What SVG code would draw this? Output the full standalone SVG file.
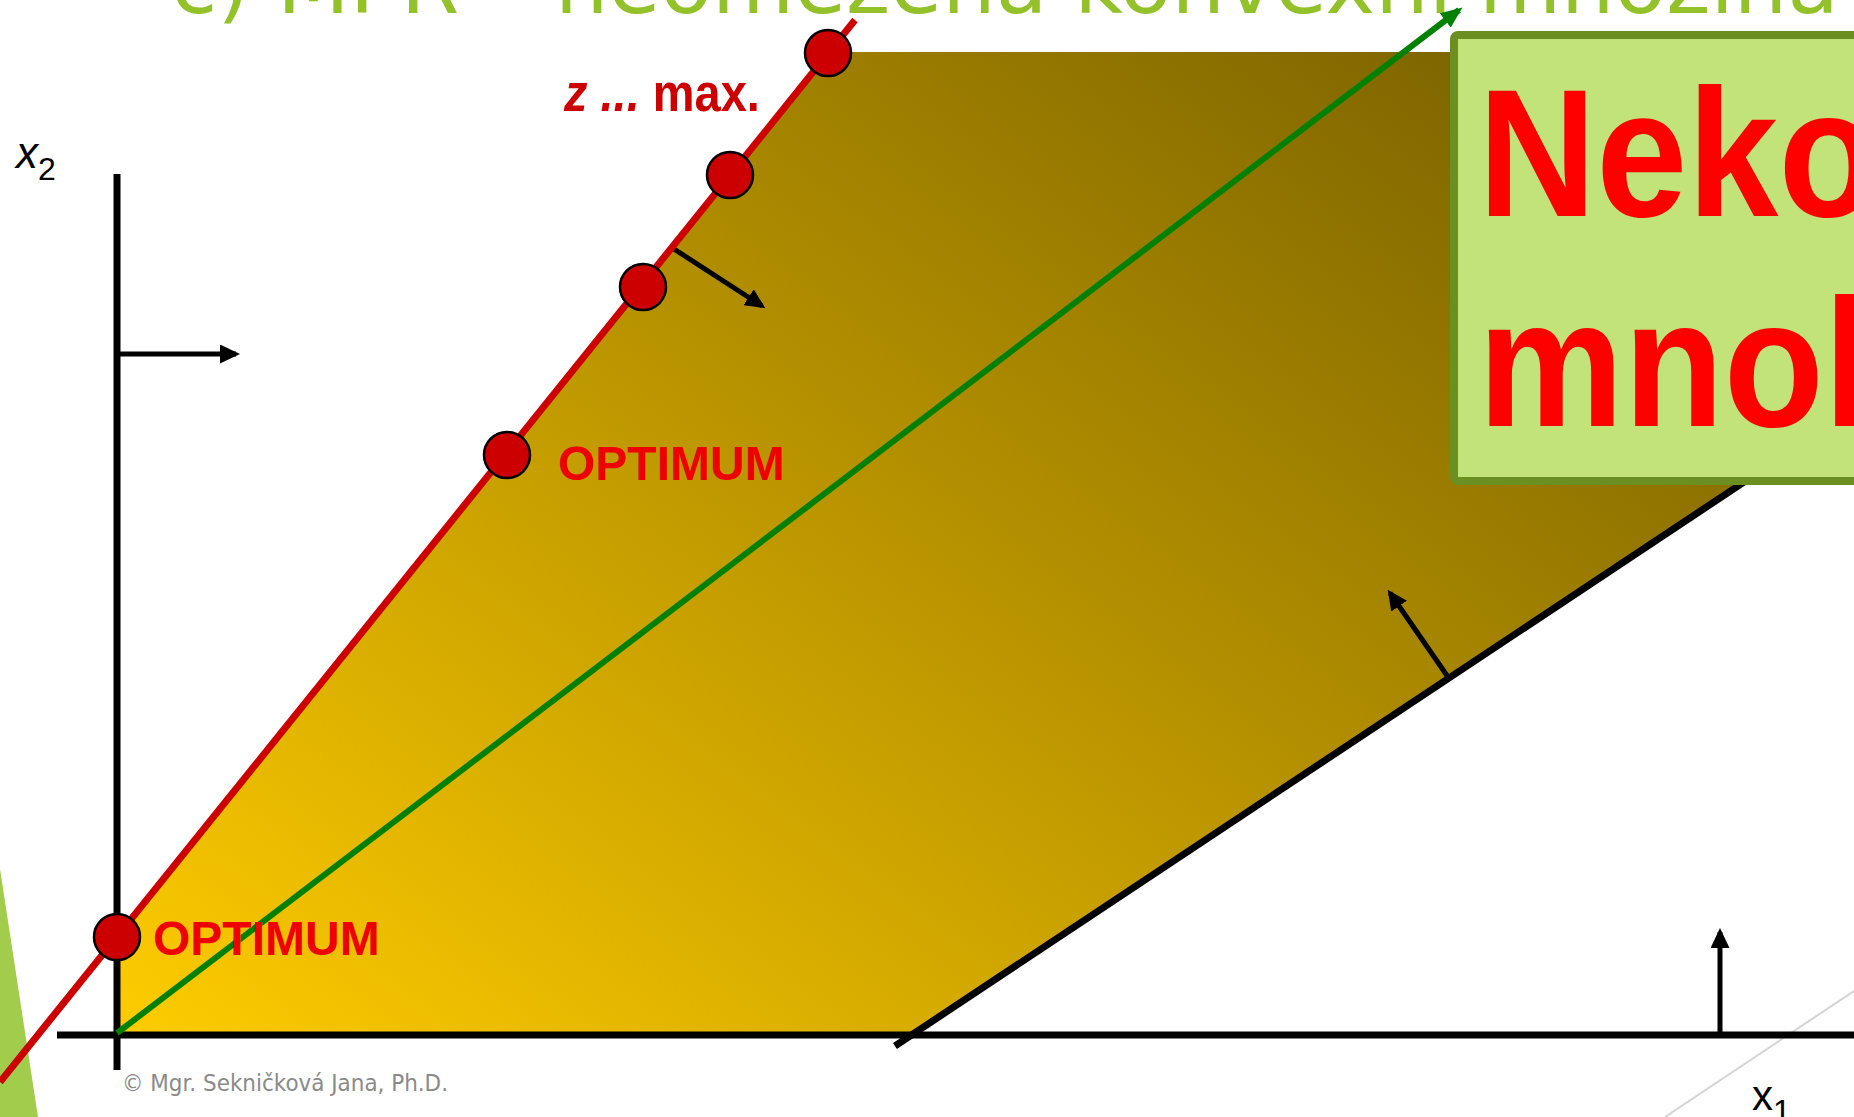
<svg xmlns="http://www.w3.org/2000/svg" width="1854" height="1117" viewBox="0 0 1854 1117">
<style>
.ax{stroke:#000;stroke-width:7;fill:none}
.arr{stroke:#000;stroke-width:5;fill:none}
.pt{fill:#CC0000;stroke:#000;stroke-width:2.5}
.opt{font-family:"Liberation Sans",Arial,sans-serif;font-weight:bold;font-size:48px;fill:#EE0000}
.lbl{font-family:"Liberation Sans",Arial,sans-serif;fill:#000}
.big{font-family:"Liberation Sans",Arial,sans-serif;font-weight:bold;font-size:182px;fill:#FF0000}
</style>
<defs>
<linearGradient id="g" gradientUnits="userSpaceOnUse" x1="117" y1="1035" x2="1068" y2="-233">
<stop offset="0" stop-color="#FFCC00"/>
<stop offset="1" stop-color="#7F6600"/>
</linearGradient>
<marker id="ah" viewBox="0 0 10 10" refX="8" refY="5" markerWidth="4" markerHeight="3.8" orient="auto" markerUnits="strokeWidth" preserveAspectRatio="none">
<path d="M0,0 L10,5 L0,10 z" fill="#000"/>
</marker>
<marker id="ahg" viewBox="0 0 10 10" refX="8" refY="5" markerWidth="3.6" markerHeight="3" orient="auto" markerUnits="strokeWidth" preserveAspectRatio="none">
<path d="M0,0 L10,5 L0,10 z" fill="#008000"/>
</marker>
</defs>
<rect width="1854" height="1117" fill="#fff"/>
<g id="title">
<text x="171" y="13" font-family="DejaVu Sans,sans-serif" font-size="84" fill="#92C12A" textLength="1668" lengthAdjust="spacingAndGlyphs">c) MPR – neomezená konvexní množina</text>
</g>
<g id="decor">
<polygon points="0,869 38,1117 0,1117" fill="#A2CC4B"/>
<line x1="1665" y1="1117" x2="1854" y2="991" stroke="#D4D4D4" stroke-width="2"/>
</g>
<g id="region">
<polygon points="117,1035 117,937 829,52 1860,52 1860,405 913,1035" fill="url(#g)"/>
</g>
<g id="connectors">
<line class="ax" x1="117" y1="174" x2="117" y2="1070"/>
<line class="ax" x1="57" y1="1035" x2="1854" y2="1035"/>
<line class="ax" x1="895" y1="1046" x2="1854" y2="409"/>
<line class="arr" x1="117" y1="354" x2="236" y2="354" marker-end="url(#ah)"/>
<line class="arr" x1="674" y1="249" x2="762" y2="306" marker-end="url(#ah)"/>
<line class="arr" x1="1448" y1="677" x2="1390" y2="593" marker-end="url(#ah)"/>
<line class="arr" x1="1720" y1="1035" x2="1720" y2="932" marker-end="url(#ah)"/>
<line x1="117" y1="1033" x2="1459" y2="10" stroke="#008000" stroke-width="6" marker-end="url(#ahg)"/>
<line x1="0" y1="1082" x2="855" y2="20" stroke="#CC0000" stroke-width="7"/>
</g>
<g id="points">
<circle class="pt" cx="117" cy="937" r="23"/>
<circle class="pt" cx="507" cy="455" r="23"/>
<circle class="pt" cx="643" cy="287" r="23"/>
<circle class="pt" cx="730" cy="175" r="23"/>
<circle class="pt" cx="828" cy="53" r="23"/>
</g>
<g id="labels">
<text class="opt" x="558" y="480">OPTIMUM</text>
<text class="opt" x="153" y="955">OPTIMUM</text>
<g transform="translate(564,111) scale(0.87,1)">
<text x="0" y="0" font-family="Liberation Sans,Arial,sans-serif" font-weight="bold" font-size="54" fill="#CC0000"><tspan font-style="italic">z ...</tspan> max.</text>
</g>
<text class="lbl" x="16" y="168" font-size="44" font-style="italic">x<tspan font-size="32" font-style="normal" dy="12">2</tspan></text>
<text class="lbl" x="1752" y="1110" font-size="42">x<tspan font-size="32" dy="12">1</tspan></text>
<text x="122" y="1091" font-family="DejaVu Sans,sans-serif" font-size="23" fill="#8A8A8A" textLength="326" lengthAdjust="spacingAndGlyphs">© Mgr. Sekničková Jana, Ph.D.</text>
</g>
<g id="box">
<rect x="1454" y="35" width="420" height="446" rx="4" fill="#C1E37A" stroke="#6B8F21" stroke-width="8"/>
<g transform="translate(1478,0) scale(0.9,1)">
<text class="big" x="0" y="216">Nekonečně</text>
<text class="big" x="0" y="426">mnoho</text>
</g>
</g>
</svg>
